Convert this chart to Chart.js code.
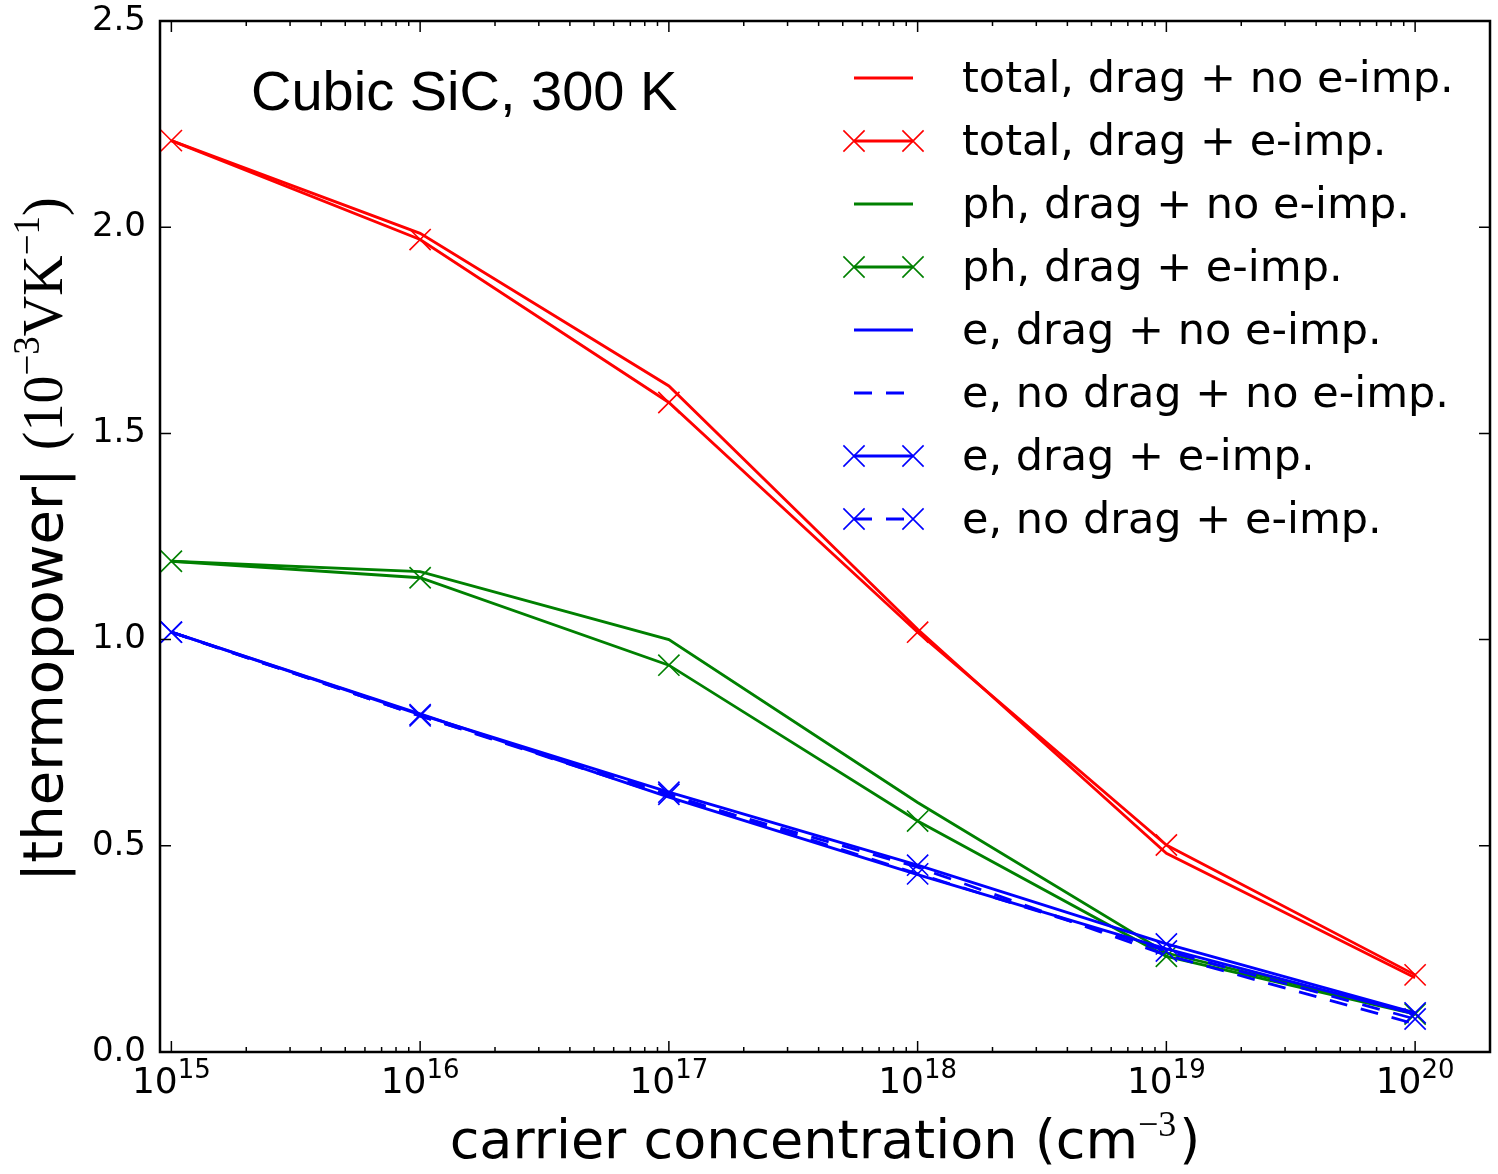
<!DOCTYPE html>
<html>
<head>
<meta charset="utf-8">
<script src="https://cdn.jsdelivr.net/npm/chart.js@4.4.0/dist/chart.umd.min.js"></script>
<style>
  html, body { margin: 0; padding: 0; background: #fff; }
</style>
</head>
<body>
<canvas id="thermo" width="1498" height="1174"></canvas>
<script>
// carrier concentration (cm^-3)
const carriers = [1e15, 1e16, 1e17, 1e18, 1e19, 1e20];

// |thermopower| in units of 1e-3 V/K
const totalDragNoImp = [2.21, 1.985, 1.615, 1.025, 0.482, 0.180];
const totalDragImp   = [2.21, 1.970, 1.575, 1.018, 0.502, 0.187];
const phDragNoImp    = [1.19, 1.165, 1.000, 0.605, 0.240, 0.095];
const phDragImp      = [1.19, 1.150, 0.938, 0.560, 0.232, 0.092];
const eDragNoImp     = [1.018, 0.820, 0.618, 0.430, 0.250, 0.092];
const eNoDragNoImp   = [1.018, 0.815, 0.620, 0.448, 0.235, 0.068];
const eDragImp       = [1.018, 0.818, 0.630, 0.453, 0.262, 0.095];
const eNoDragImp     = [1.018, 0.815, 0.625, 0.432, 0.245, 0.080];

const yTicks = [0, 0.5, 1.0, 1.5, 2.0, 2.5];
const xTickExps = [15, 16, 17, 18, 19, 20];

const RED = '#ff0000', GREEN = '#008000', BLUE = '#0000ff';

function series(label, values, color, marker, dashed) {
  return {
    label: label,
    data: carriers.map((c, i) => ({ x: c, y: values[i] })),
    borderColor: color,
    backgroundColor: color,
    borderWidth: 2.8,
    borderDash: dashed ? [18, 14] : [],
    pointStyle: 'crossRot',
    pointRadius: marker ? 15 : 0,
    pointHoverRadius: marker ? 15 : 0,
    pointBorderWidth: 1.6,
    pointBorderColor: color,
    tension: 0,
    fill: false,
    _marker: marker
  };
}

const datasets = [
  series('total, drag + no e-imp.', totalDragNoImp, RED, false, false),
  series('total, drag + e-imp.', totalDragImp, RED, true, false),
  series('ph, drag + no e-imp.', phDragNoImp, GREEN, false, false),
  series('ph, drag + e-imp.', phDragImp, GREEN, true, false),
  series('e, drag + no e-imp.', eDragNoImp, BLUE, false, false),
  series('e, no drag + no e-imp.', eNoDragNoImp, BLUE, false, true),
  series('e, drag + e-imp.', eDragImp, BLUE, true, false),
  series('e, no drag + e-imp.', eNoDragImp, BLUE, true, true)
];
// later series sit on top of earlier ones
datasets.forEach((d, i) => { d.order = datasets.length - i; });

// draws an X marker like the plot points
function drawCross(ctx, x, y, r, color, w) {
  const o = r * Math.SQRT1_2;
  ctx.save();
  ctx.strokeStyle = color;
  ctx.lineWidth = w;
  ctx.setLineDash([]);
  ctx.beginPath();
  ctx.moveTo(x - o, y - o); ctx.lineTo(x + o, y + o);
  ctx.moveTo(x - o, y + o); ctx.lineTo(x + o, y - o);
  ctx.stroke();
  ctx.restore();
}

// text made of pieces, each with its own font and vertical offset
function drawPieces(ctx, pieces, x, y, align) {
  let total = 0;
  pieces.forEach(p => { ctx.font = p.font; p.w = ctx.measureText(p.text).width; total += p.w + (p.gap || 0); });
  let cx = align === 'center' ? x - total / 2 : x;
  ctx.textAlign = 'left';
  ctx.textBaseline = 'alphabetic';
  pieces.forEach(p => {
    ctx.font = p.font;
    ctx.fillText(p.text, cx, y - (p.rise || 0));
    cx += p.w + (p.gap || 0);
  });
}

const axesDecor = {
  id: 'axesDecor',
  afterDatasetsDraw(chart) {
    const ctx = chart.ctx;
    const a = chart.chartArea;
    const xs = chart.scales.x, ys = chart.scales.y;
    ctx.save();
    ctx.fillStyle = '#000';
    ctx.strokeStyle = '#000';

    // frame
    ctx.lineWidth = 2.5;
    ctx.strokeRect(a.left, a.top, a.right - a.left, a.bottom - a.top);

    // y ticks, inward on both sides, with labels
    ctx.lineWidth = 1.5;
    ctx.beginPath();
    yTicks.forEach(v => {
      const py = ys.getPixelForValue(v);
      ctx.moveTo(a.left, py); ctx.lineTo(a.left + 11, py);
      ctx.moveTo(a.right, py); ctx.lineTo(a.right - 11, py);
    });
    ctx.stroke();
    ctx.font = '34px "DejaVu Sans"';
    ctx.textAlign = 'right';
    ctx.textBaseline = 'middle';
    yTicks.forEach(v => {
      ctx.fillText(v.toFixed(1), a.left - 14, ys.getPixelForValue(v));
    });

    // x ticks: decades plus 2..9 minors, inward on top and bottom
    ctx.beginPath();
    for (let e = 14; e <= 20; e++) {
      for (let m = 1; m <= 9; m++) {
        const v = m * Math.pow(10, e);
        if (v < xs.min || v > xs.max) continue;
        const px = xs.getPixelForValue(v);
        const len = m === 1 ? 11 : 5;
        ctx.moveTo(px, a.bottom); ctx.lineTo(px, a.bottom - len);
        ctx.moveTo(px, a.top); ctx.lineTo(px, a.top + len);
      }
    }
    ctx.stroke();

    // x tick labels 10^n
    xTickExps.forEach(n => {
      const px = xs.getPixelForValue(Math.pow(10, n));
      drawPieces(ctx, [
        { text: '10', font: '36px "DejaVu Sans"' },
        { text: String(n), font: '26px "DejaVu Sans"', rise: 15 }
      ], px, 1093, 'center');
    });

    // x axis title
    const midX = (a.left + a.right) / 2;
    drawPieces(ctx, [
      { text: 'carrier concentration (cm', font: '54px "DejaVu Sans"' },
      { text: '\u22123', font: '36px "Liberation Serif"', rise: 22, gap: 3 },
      { text: ')', font: '54px "DejaVu Sans"' }
    ], midX, 1158, 'center');

    // y axis title, rotated
    ctx.save();
    ctx.translate(62, (a.top + a.bottom) / 2 + 3);
    ctx.rotate(-Math.PI / 2);
    drawPieces(ctx, [
      { text: '|thermopower| ', font: '56px "DejaVu Sans"' },
      { text: '(10', font: '56px "Liberation Serif"' },
      { text: '\u22123', font: '37px "Liberation Serif"', rise: 23 },
      { text: 'VK', font: '56px "Liberation Serif"' },
      { text: '\u22121', font: '37px "Liberation Serif"', rise: 23 },
      { text: ')', font: '56px "Liberation Serif"' }
    ], 0, 0, 'center');
    ctx.restore();

    // annotation
    ctx.font = '56px "Liberation Sans"';
    ctx.textAlign = 'left';
    ctx.textBaseline = 'alphabetic';
    ctx.fillText('Cubic SiC, 300 K', 251, 110);

    // legend
    const rowY0 = 78, rowStep = 63, x0 = 854, x1 = 913, textX = 962;
    ctx.font = '43px "DejaVu Sans"';
    chart.data.datasets.forEach((d, i) => {
      const y = rowY0 + i * rowStep;
      ctx.save();
      ctx.strokeStyle = d.borderColor;
      ctx.lineWidth = d.borderWidth;
      ctx.setLineDash(d.borderDash);
      ctx.beginPath();
      ctx.moveTo(x0, y); ctx.lineTo(x1, y);
      ctx.stroke();
      ctx.restore();
      if (d._marker) {
        drawCross(ctx, x0, y, 15, d.borderColor, 1.6);
        drawCross(ctx, x1, y, 15, d.borderColor, 1.6);
      }
      ctx.fillStyle = '#000';
      ctx.textAlign = 'left';
      ctx.textBaseline = 'middle';
      ctx.fillText(d.label, textX, y + 3);
    });
    ctx.restore();
  }
};

new Chart(document.getElementById('thermo'), {
  type: 'line',
  data: { datasets: datasets },
  options: {
    responsive: false,
    animation: false,
    devicePixelRatio: 1,
    layout: { autoPadding: false, padding: { top: 21, right: 8, left: 0, bottom: 0 } },
    plugins: { legend: { display: false }, tooltip: { enabled: false } },
    scales: {
      x: {
        type: 'logarithmic',
        min: 9e14,
        max: 2e20,
        ticks: { display: false },
        grid: { display: false, drawTicks: false },
        border: { display: false },
        afterFit(scale) { scale.height = 122; }
      },
      y: {
        type: 'linear',
        min: 0,
        max: 2.5,
        ticks: { display: false },
        grid: { display: false, drawTicks: false },
        border: { display: false },
        afterFit(scale) { scale.width = 160; }
      }
    }
  },
  plugins: [axesDecor]
});
</script>
</body>
</html>
